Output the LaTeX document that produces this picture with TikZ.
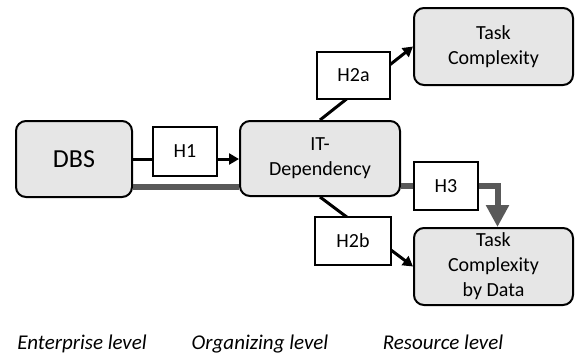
\documentclass[tikz,border=0pt]{standalone}
\usepackage{fontspec}
\setmainfont{Carlito}
\usetikzlibrary{arrows.meta,backgrounds}
\definecolor{boxfill}{HTML}{E6E6E6}
\definecolor{thickgray}{HTML}{595959}
\tikzset{
  mainbox/.style={draw=black,line width=2pt,fill=boxfill,rounded corners=10pt,align=center,font=\fontsize{20}{25}\selectfont,inner sep=0pt},
  hbox/.style={draw=black,line width=2pt,fill=white,align=center,font=\fontsize{20}{24}\selectfont,inner sep=0pt},
  blackarrow/.style={line width=3pt,-{Triangle[length=10pt,width=11pt]}},
  blackline/.style={line width=3pt},
  grayline/.style={line width=6pt,draw=thickgray},
  levellabel/.style={font=\fontsize{21}{25}\selectfont\itshape,inner sep=0pt,anchor=base}
}
\begin{document}
\begin{tikzpicture}[x=1pt,y=-1pt]
\useasboundingbox (0,0) rectangle (575,360);
% main boxes
\node[mainbox,minimum width=116pt,minimum height=76pt,font=\fontsize{26}{30}\selectfont] (DBS) at (74,159) {DBS};
\node[mainbox,minimum width=160pt,minimum height=75pt] (IT) at (320,158.5) {IT-\\Dependency};
\node[mainbox,minimum width=159pt,minimum height=77pt] (TC) at (493.5,46.5) {Task\\Complexity};
\node[mainbox,minimum width=159pt,minimum height=77pt] (TCD) at (493.5,266.5) {Task\\Complexity\\by Data};
% hypothesis boxes
\node[hbox,minimum width=64pt,minimum height=49pt] (H1) at (185,151.5) {H1};
\node[hbox,minimum width=73pt,minimum height=47pt] (H2a) at (353.5,75.5) {H2a};
\node[hbox,minimum width=76pt,minimum height=48pt] (H2b) at (353,241) {H2b};
\node[hbox,minimum width=64pt,minimum height=48pt] (H3) at (446,186) {H3};
% connectors
\begin{pgfonlayer}{background}
\draw[blackarrow] (IT.north) -- (TC.west);
\draw[blackarrow] (IT.south) -- (TCD.west);
\end{pgfonlayer}
\draw[blackline] (DBS.east |- 0,159) -- (H1.west |- 0,159);
\draw[blackarrow] (H1.east |- 0,159) -- (IT.west |- 0,159);
\draw[grayline] (DBS.east |- 0,187) -- (IT.west |- 0,187);
\draw[grayline] (IT.east |- H3.west) -- (H3.west);
\draw[grayline,-{Triangle[length=22pt,width=22pt]}] (H3.east) -| ([xshift=4pt]TCD.north);
% level labels
\node[levellabel] (L1) at (82,349) {Enterprise level};
\node[levellabel] (L2) at (260,349) {Organizing level};
\node[levellabel] (L3) at (443,349) {Resource level};
\end{tikzpicture}
\end{document}
